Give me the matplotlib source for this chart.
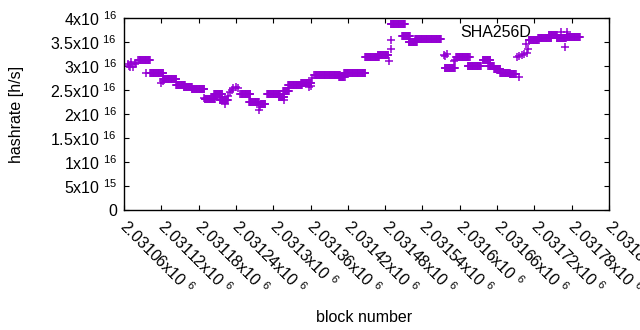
import numpy as np
import matplotlib
matplotlib.use("Agg")
import matplotlib.pyplot as plt
import matplotlib.transforms as mtransforms

plt.rcParams['font.family'] = ['Liberation Sans', 'DejaVu Sans']
plt.rcParams['mathtext.fontset'] = 'custom'
plt.rcParams['mathtext.rm'] = 'Liberation Sans'

# runs of blocks with the same hashrate (first block, last block, hashrate in 1e16 h/s)
seg_start = [2031083, 2031102, 2031123, 2031144, 2031156, 2031169, 2031190, 2031205,
             2031214, 2031247, 2031261, 2031280, 2031290, 2031309, 2031316, 2031324,
             2031345, 2031366, 2031406, 2031414, 2031448, 2031468, 2031489, 2031507,
             2031518, 2031528, 2031576, 2031594, 2031613, 2031637, 2031646, 2031655,
             2031665, 2031680, 2031711, 2031726, 2031743, 2031756, 2031772]
seg_end = [2031102, 2031123, 2031144, 2031158, 2031169, 2031189, 2031206, 2031218,
           2031227, 2031263, 2031277, 2031287, 2031311, 2031318, 2031325, 2031346,
           2031361, 2031407, 2031415, 2031448, 2031470, 2031485, 2031512, 2031520,
           2031531, 2031570, 2031592, 2031616, 2031634, 2031649, 2031655, 2031665,
           2031680, 2031690, 2031727, 2031747, 2031756, 2031771, 2031793]
seg_value = [3.125, 2.85, 2.72, 2.60, 2.56, 2.53, 2.31, 2.42,
             2.29, 2.42, 2.25, 2.20, 2.42, 2.35, 2.48, 2.60,
             2.65, 2.81, 2.77, 2.86, 3.19, 3.23, 3.875, 3.63,
             3.50, 3.56, 2.96, 3.19, 3.00, 3.12, 2.99, 2.93,
             2.86, 2.83, 3.54, 3.58, 3.65, 3.58, 3.61]

# single blocks between the runs
pt_block = [2031066, 2031068, 2031070, 2031072, 2031074, 2031077, 2031080, 2031095,
            2031120, 2031123, 2031189, 2031222, 2031227, 2031230, 2031233, 2031236,
            2031240, 2031244, 2031277, 2031279, 2031318, 2031357, 2031360, 2031363,
            2031486, 2031489, 2031490, 2031574, 2031577, 2031579, 2031590, 2031593,
            2031696, 2031692, 2031696, 2031700, 2031704, 2031708, 2031706, 2031710,
            2031769, 2031772]
pt_value = [3.05, 3.00, 2.97, 3.08, 2.98, 3.04, 3.06, 2.85,
            2.64, 2.69, 2.33, 2.20, 2.38, 2.45, 2.50, 2.55,
            2.56, 2.55, 2.08, 2.15, 2.29, 2.56, 2.58, 2.75,
            3.10, 3.35, 3.54, 3.23, 3.21, 3.24, 3.10, 3.12,
            2.78, 3.18, 3.20, 3.22, 3.25, 3.28, 3.45, 3.35,
            3.40, 3.70]

xs = []
ys = []
for s, e, v in zip(seg_start, seg_end, seg_value):
    b = np.arange(s, e + 1)
    xs.append(b)
    ys.append(np.full(len(b), v))
xs.append(np.array(pt_block))
ys.append(np.array(pt_value))
blocks = np.concatenate(xs)
hashrate = np.concatenate(ys) * 1e16

xticks = np.arange(2031060, 2031841, 60)
yticks = np.arange(0, 4.01e16, 5e15)


def sci_label(v):
    # gnuplot style "mantissa x10^exp"
    if v == 0:
        return '0'
    exp = int(np.floor(np.log10(v)))
    mant = v / 10 ** exp
    return '%gx10 $^{\\mathregular{%d}}$' % (round(mant, 6), exp)


fig = plt.figure(figsize=(6.4, 3.3), dpi=100)
ax = fig.add_axes([124 / 640, 1 - 210 / 330, 485 / 640, 192 / 330])

ax.plot(blocks, hashrate, linestyle='none', marker='+', markersize=6,
        markeredgewidth=1.1, color='#9400D3', label='SHA256D')

ax.set_xlim(2031060, 2031840)
ax.set_ylim(0, 4e16)
ax.set_xticks(xticks)
ax.set_yticks(yticks)
ax.set_xticklabels([sci_label(x) for x in xticks], rotation=-45, ha='left',
                   va='top', rotation_mode='anchor', fontsize=11.5)
ax.set_yticklabels([sci_label(y) for y in yticks], fontsize=11.5)
ax.tick_params(direction='in', top=True, right=True, length=3.5, width=0.8, pad=5)
ax.tick_params(axis='x', pad=6)
shift = mtransforms.ScaledTranslation(0.06, 0.02, fig.dpi_scale_trans)
for lab in ax.get_xticklabels():
    lab.set_transform(lab.get_transform() + shift)
for sp in ax.spines.values():
    sp.set_linewidth(1.0)

ax.set_xlabel('block number', fontsize=11.5)
ax.xaxis.set_label_coords(0.495, -0.52)
ax.set_ylabel('hashrate [h/s]', fontsize=11.5)
ax.yaxis.set_label_coords(-0.207, 0.5)

ax.legend(loc='upper right', frameon=False, markerfirst=False, fontsize=11.5,
          handlelength=2.5, handletextpad=0.6, borderaxespad=0.3,
          bbox_to_anchor=(0.965, 1.02))

fig.savefig('out.png', dpi=100)
